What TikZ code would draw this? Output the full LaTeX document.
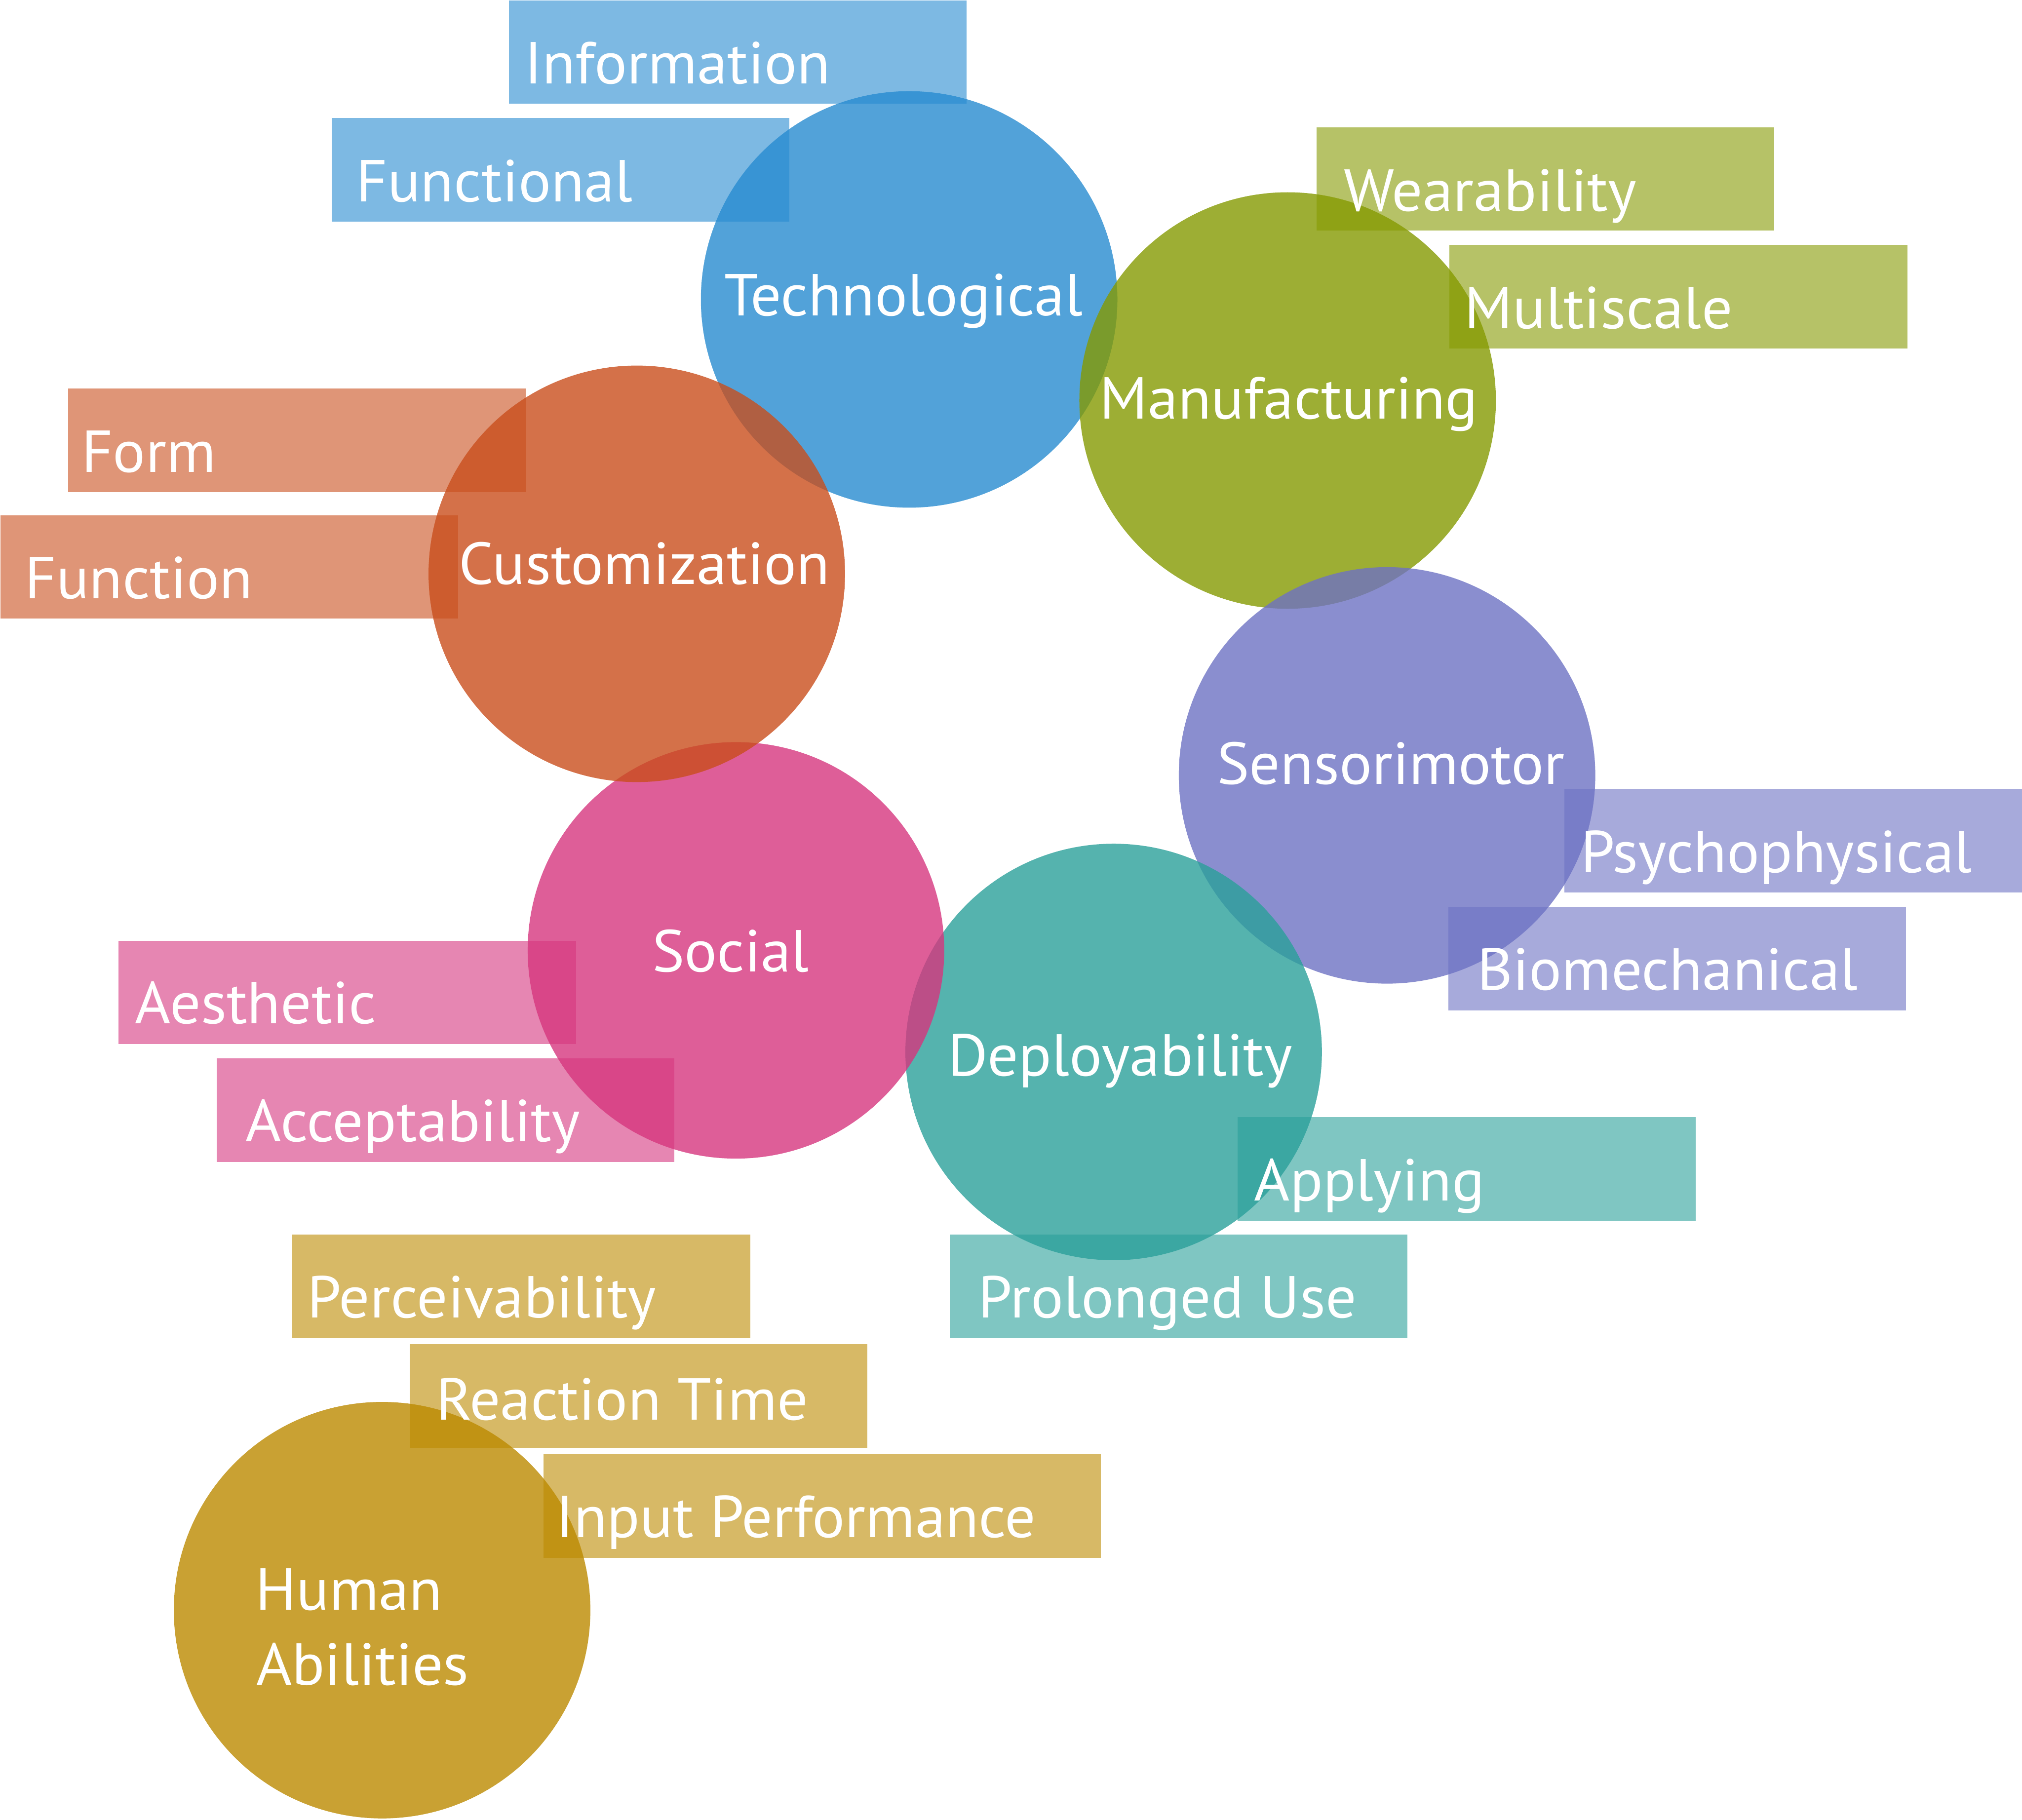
\documentclass[tikz,border=0pt]{standalone}
\usepackage{fontspec}
\setmainfont{PT Sans}[FakeStretch=1.03]
\definecolor{cblue}{RGB}{39,139,208}
\definecolor{cgreen}{RGB}{133,154,1}
\definecolor{corange}{RGB}{201,78,28}
\definecolor{cpurple}{RGB}{109,114,195}
\definecolor{cpink}{RGB}{214,54,126}
\definecolor{cteal}{RGB}{42,160,154}
\definecolor{cgold}{RGB}{188,138,0}
\begin{document}
\begin{tikzpicture}[x=1pt,y=-1pt,
  circ/.style={circle, minimum size=323pt, inner sep=0pt, draw=none, fill opacity=0.8},
  tag/.style={rectangle, minimum width=355pt, minimum height=80.3pt, inner sep=0pt, draw=none, anchor=north west, fill opacity=0.6},
  lbl/.style={text=white, inner sep=0pt, anchor=base west, font=\fontsize{45.9pt}{55pt}\selectfont}]
\useasboundingbox (0,0) rectangle (1568,1411.4);
% circles
\node[circ, fill=cgold]   (human)  at (296.3,1248.7) {};
\node[circ, fill=cblue]   (tech)   at (705,232.2) {};
\node[circ, fill=cgreen]  (manu)   at (998.5,310.6) {};
\node[circ, fill=cpurple] (senso)  at (1075.6,601.3) {};
\node[circ, fill=cteal]   (deploy) at (863.6,815.8) {};
\node[circ, fill=cpink]   (social) at (570.7,737) {};
\node[circ, fill=corange] (custom) at (493.8,445) {};
% tags
\node[tag, fill=cblue]   (info)    at (394.5,0) {};
\node[tag, fill=cblue]   (func)    at (257,91.2) {};
\node[tag, fill=cgreen]  (wear)    at (1020.7,98.4) {};
\node[tag, fill=cgreen]  (multi)   at (1123.8,189.6) {};
\node[tag, fill=corange] (form)    at (52.5,301) {};
\node[tag, fill=corange] (funct)   at (0,399.3) {};
\node[tag, fill=cpurple] (psych)   at (1213,611.7) {};
\node[tag, fill=cpurple] (biomech) at (1123,703) {};
\node[tag, fill=cpink]   (aesth)   at (91.5,729.3) {};
\node[tag, fill=cpink]   (accept)  at (167.8,820.5) {};
\node[tag, fill=cteal]   (apply)   at (959.6,866) {};
\node[tag, fill=cteal]   (prolong) at (736.3,957.3) {};
\node[tag, fill=cgold]   (perceiv) at (226.5,957.3) {};
\node[tag, fill=cgold]   (react)   at (317.5,1042.3) {};
\node[tag, fill=cgold, minimum width=432.3pt] (input) at (421.3,1127.5) {};
% labels
\node[lbl] (infoT)    at (406.5,65) {Information};
\node[lbl] (funcT)    at (276,156.2) {Functional};
\node[lbl] (wearT)    at (1042,163.5) {Wearability};
\node[lbl] (multiT)   at (1135.5,254.6) {Multiscale};
\node[lbl] (formT)    at (63,366) {Form};
\node[lbl] (functT)   at (19,464.3) {Function};
\node[lbl] (psychT)   at (1225.6,676.5) {Psychophysical};
\node[lbl] (biomechT) at (1145.3,767.7) {Biomechanical};
\node[lbl] (aesthT)   at (104.5,793.9) {Aesthetic};
\node[lbl] (acceptT)  at (190.2,885.4) {Acceptability};
\node[lbl] (applyT)   at (972.5,931) {Applying};
\node[lbl] (prolongT) at (758.3,1022) {Prolonged Use};
\node[lbl] (perceivT) at (238,1022) {Perceivability};
\node[lbl] (reactT)   at (338,1101.3) {Reaction Time};
\node[lbl] (inputT)   at (431,1192.4) {Input Performance};
\node[lbl] (techT)    at (561.5,244.9) {Technological};
\node[lbl] (manuT)    at (852.5,325) {Manufacturing};
\node[lbl] (customT)  at (355.5,452.9) {Customization};
\node[lbl] (sensoT)   at (943.5,608) {Sensorimotor};
\node[lbl] (socialT)  at (505.5,753.7) {Social};
\node[lbl] (deployT)  at (734.8,834.5) {Deployability};
\node[lbl] (humanT)   at (198,1248.7) {Human};
\node[lbl] (abilT)    at (198.5,1306.6) {Abilities};
\end{tikzpicture}
\end{document}
